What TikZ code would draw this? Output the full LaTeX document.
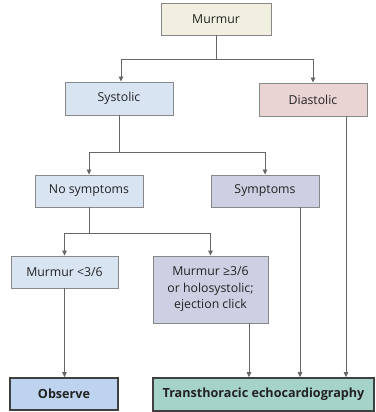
\documentclass[tikz,border=0pt]{standalone}
\usepackage{fontspec}
\setmainfont{Open Sans}
\usetikzlibrary{arrows.meta}
\definecolor{txt}{HTML}{222222}
\definecolor{lin}{HTML}{666666}
\definecolor{bord}{HTML}{888888}
\definecolor{cMurmur}{HTML}{F1EFE0}
\definecolor{cBlue}{HTML}{D9E4F3}
\definecolor{cPink}{HTML}{E9D4D3}
\definecolor{cLav}{HTML}{CDD0E2}
\definecolor{cObs}{HTML}{BDD3EE}
\definecolor{cTTE}{HTML}{A6D3C9}
\tikzset{
  box/.style={draw=bord, line width=0.9pt, text=txt, align=center, inner sep=0pt,
    font=\fontsize{12.3}{16.5}\selectfont, minimum width=108pt, minimum height=32pt},
  endbox/.style={box, draw=black!75, line width=1.6pt, font=\fontsize{12.6}{15}\selectfont\bfseries},
  arr/.style={draw=lin, line width=0.8pt, -{Triangle[length=5pt,width=4.5pt]}},
  ln/.style={draw=lin, line width=0.8pt}
}
\begin{document}
\begin{tikzpicture}[x=1pt,y=-1pt]
\useasboundingbox (0,0) rectangle (375,412);
\node[box, fill=cMurmur, minimum width=110pt] (murmur) at (216,19) {Murmur};
\node[box, fill=cBlue, minimum height=33pt] (systolic) at (119,98.5) {Systolic};
\node[box, fill=cPink, minimum height=33pt] (diastolic) at (313,99.5) {Diastolic};
\node[box, fill=cBlue] (nosym) at (89,191) {No symptoms};
\node[box, fill=cLav] (sym) at (265,191) {Symptoms};
\node[box, fill=cBlue, minimum width=107pt] (mlow) at (64.5,272) {Murmur <3/6};
\node[box, fill=cLav, minimum width=115pt, minimum height=67pt] (mhigh) at (210.5,289.5) {Murmur ≥3/6\\or holosystolic;\\ejection click};
\node[endbox, fill=cObs] (observe) at (64,394) {Observe};
\node[endbox, fill=cTTE, minimum width=221pt, minimum height=33pt] (tte) at (263.5,394.5) {Transthoracic echocardiography};
\coordinate (j1) at (216,59);
\coordinate (j2) at (119,152);
\coordinate (j3) at (89,233);
\draw[ln] (murmur.south) -- (j1);
\draw[arr] (j1) -| ([xshift=2pt]systolic.north);
\draw[arr] (j1) -| (diastolic.north);
\draw[ln] (systolic.south) -- (j2);
\draw[arr] (j2) -| (nosym.north);
\draw[arr] (j2) -| (sym.north);
\draw[ln] (nosym.south) -- (j3);
\draw[arr] (j3) -| (mlow.north);
\draw[arr] (j3) -| (mhigh.north);
\draw[arr] (mlow.south) -- (mlow.south |- observe.north);
\draw[arr] ([xshift=38.5pt]mhigh.south) -- ([xshift=38.5pt]mhigh.south |- tte.north);
\draw[arr] ([xshift=35pt]sym.south) -- ([xshift=35pt]sym.south |- tte.north);
\draw[arr] ([xshift=33pt]diastolic.south) -- ([xshift=33pt]diastolic.south |- tte.north);
\end{tikzpicture}
\end{document}
